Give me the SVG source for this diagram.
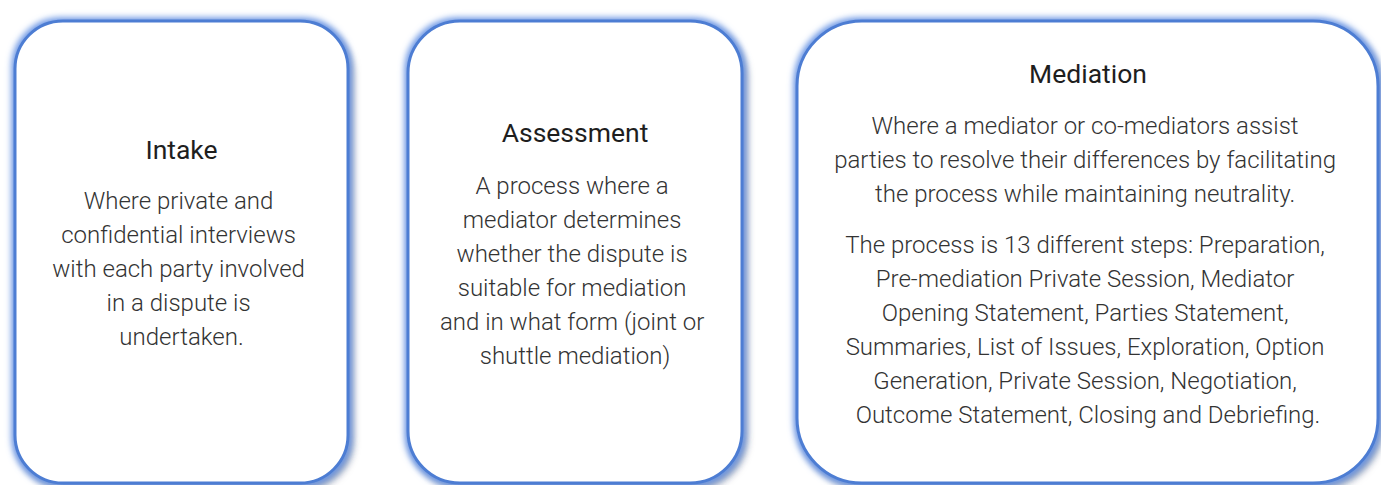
<svg xmlns="http://www.w3.org/2000/svg" width="1381" height="485" viewBox="0 0 1381 485">
  <style>
    .card { fill: #ffffff; stroke: #4d7dd3; stroke-width: 3; filter: url(#soft); }
    .title { font-family: Roboto, "Liberation Sans", sans-serif; font-size: 26.5px; font-weight: 400; fill: #1e1e1e; text-anchor: middle; }
    .body { font-family: Roboto, "Liberation Sans", sans-serif; font-size: 24px; font-weight: 300; fill: #333333; text-anchor: middle; }
  </style>
  <defs>
    <!-- soft blue halo plus a grey cast shadow toward the lower right -->
    <filter id="soft" x="-8%" y="-8%" width="116%" height="116%">
      <feGaussianBlur in="SourceAlpha" stdDeviation="3.5" result="blurA"/>
      <feOffset in="blurA" dx="4" dy="5" result="offA"/>
      <feFlood flood-color="#2a3550" flood-opacity="0.55"/>
      <feComposite in2="offA" operator="in" result="shadow"/>
      <feMorphology in="SourceAlpha" operator="dilate" radius="1.5" result="fat"/>
      <feGaussianBlur in="fat" stdDeviation="3" result="blurB"/>
      <feFlood flood-color="#6894e4" flood-opacity="1"/>
      <feComposite in2="blurB" operator="in" result="halo"/>
      <feMerge>
        <feMergeNode in="shadow"/>
        <feMergeNode in="halo"/>
        <feMergeNode in="SourceGraphic"/>
      </feMerge>
    </filter>
  </defs>

  <rect width="1381" height="485" fill="#ffffff"/>

  <g id="intake">
    <rect class="card" x="15" y="21" width="333" height="462" rx="48" ry="48"/>
    <text class="title" x="181.5" y="159">Intake</text>
    <text class="body">
      <tspan x="181.5" y="209">Where private and</tspan>
      <tspan x="181.5" y="243">confidential interviews</tspan>
      <tspan x="181.5" y="277">with each party involved</tspan>
      <tspan x="181.5" y="311">in a dispute is</tspan>
      <tspan x="181.5" y="345">undertaken.</tspan>
    </text>
  </g>

  <g id="assessment">
    <rect class="card" x="408" y="21" width="334" height="462" rx="52" ry="52"/>
    <text class="title" x="575" y="142">Assessment</text>
    <text class="body">
      <tspan x="575" y="194">A process where a</tspan>
      <tspan x="575" y="228">mediator determines</tspan>
      <tspan x="575" y="262">whether the dispute is</tspan>
      <tspan x="575" y="296">suitable for mediation</tspan>
      <tspan x="575" y="330">and in what form (joint or</tspan>
      <tspan x="575" y="364">shuttle mediation)</tspan>
    </text>
  </g>

  <g id="mediation">
    <rect class="card" x="797" y="21" width="581" height="462" rx="65" ry="65"/>
    <text class="title" x="1088" y="83">Mediation</text>
    <text class="body">
      <tspan x="1088" y="134">Where a mediator or co-mediators assist</tspan>
      <tspan x="1088" y="168">parties to resolve their differences by facilitating</tspan>
      <tspan x="1088" y="202">the process while maintaining neutrality.</tspan>
      <tspan x="1088" y="253">The process is 13 different steps: Preparation,</tspan>
      <tspan x="1088" y="287">Pre-mediation Private Session, Mediator</tspan>
      <tspan x="1088" y="321">Opening Statement, Parties Statement,</tspan>
      <tspan x="1088" y="355">Summaries, List of Issues, Exploration, Option</tspan>
      <tspan x="1088" y="389">Generation, Private Session, Negotiation,</tspan>
      <tspan x="1088" y="423">Outcome Statement, Closing and Debriefing.</tspan>
    </text>
  </g>

  <g id="connectors"/>
</svg>
